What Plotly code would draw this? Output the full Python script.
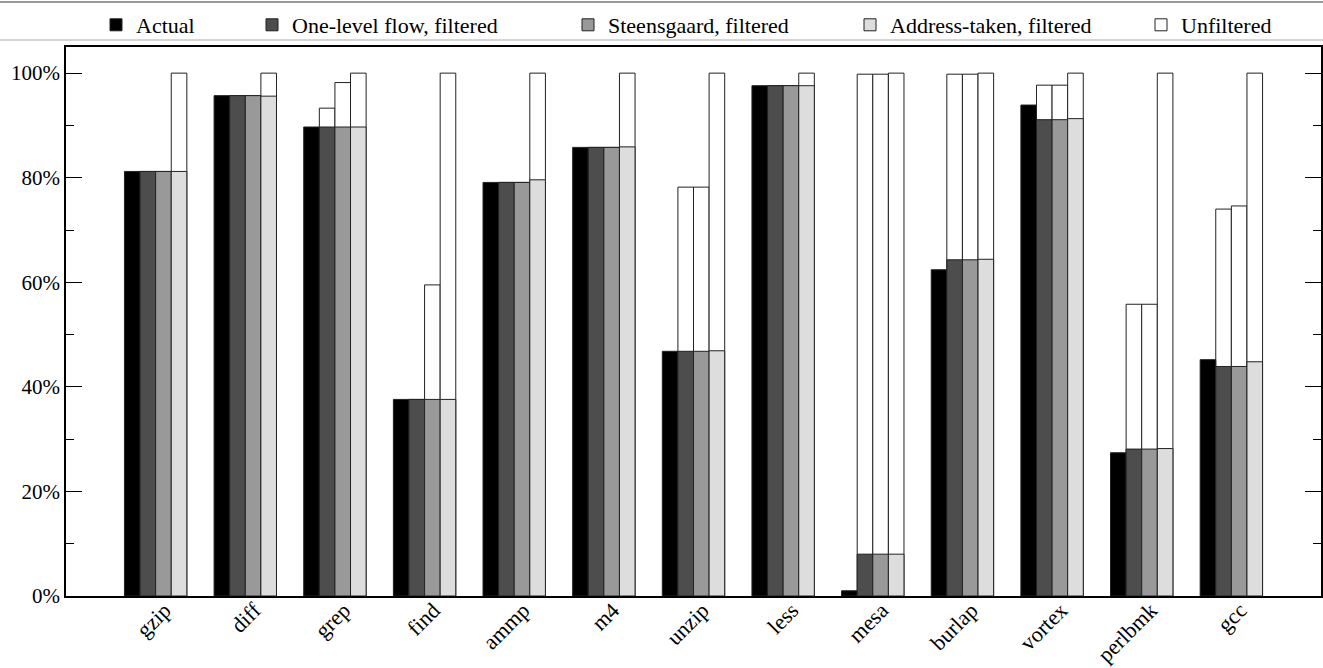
import plotly.graph_objects as go

categories = ["gzip", "diff", "grep", "find", "ammp", "m4", "unzip",
              "less", "mesa", "burlap", "vortex", "perlbmk", "gcc"]

actual = [81.2, 95.7, 89.7, 37.6, 79.1, 85.8, 46.8, 97.6, 1.0, 62.4, 93.9, 27.4, 45.2]
one_level_filtered = [81.2, 95.7, 89.7, 37.6, 79.1, 85.8, 46.8, 97.6, 8.0, 64.3, 91.1, 28.1, 43.9]
steensgaard_filtered = [81.2, 95.7, 89.7, 37.6, 79.1, 85.8, 46.8, 97.6, 8.0, 64.3, 91.1, 28.1, 43.9]
address_taken_filtered = [81.2, 95.6, 89.7, 37.6, 79.6, 85.9, 46.9, 97.6, 8.0, 64.4, 91.3, 28.2, 44.8]

one_level_unfiltered = [81.2, 95.7, 93.3, 37.6, 79.1, 85.8, 78.2, 97.6, 99.8, 99.8, 97.7, 55.8, 74.0]
steensgaard_unfiltered = [81.2, 95.7, 98.2, 59.5, 79.1, 85.8, 78.2, 97.6, 99.8, 99.8, 97.7, 55.8, 74.6]
address_taken_unfiltered = [100, 100, 100, 100, 100, 100, 100, 100, 100, 100, 100, 100, 100]

y_tick_values = [0, 20, 40, 60, 80, 100]
y_tick_labels = ["0%", "20%", "40%", "60%", "80%", "100%"]

FONT = "Liberation Serif"
W = 0.174
OUTLINE = dict(color="#222222", width=1)
FIG_W, FIG_H = 1323, 668

# legend text start positions (px from left) for each entry
legend_text_x = [136, 292, 608, 890, 1181]
legend_names = ["legend", "legend2", "legend3", "legend4", "legend5"]

fig = go.Figure()

# Unfiltered (white) bars drawn first, underneath
for i, vals in enumerate([one_level_unfiltered, steensgaard_unfiltered, address_taken_unfiltered]):
    fig.add_trace(go.Bar(
        x=categories, y=vals, name="Unfiltered",
        marker=dict(color="#ffffff", line=OUTLINE),
        width=W, offset=(-1 + i) * W,
        legendgroup="unf", showlegend=(i == 0), legend="legend5",
    ))

series = [
    ("Actual", actual, "#000000", -2),
    ("One-level flow, filtered", one_level_filtered, "#4d4d4d", -1),
    ("Steensgaard, filtered", steensgaard_filtered, "#999999", 0),
    ("Address-taken, filtered", address_taken_filtered, "#dddddd", 1),
]
for j, (name, vals, color, k) in enumerate(series):
    fig.add_trace(go.Bar(
        x=categories, y=vals, name=name,
        marker=dict(color=color, line=OUTLINE),
        width=W, offset=k * W, legend=legend_names[j],
    ))

legend_common = dict(
    orientation="h", xref="container", yref="container",
    xanchor="left", yanchor="middle", y=1 - 25 / FIG_H,
    font=dict(family=FONT, size=22, color="black"),
    bgcolor="rgba(0,0,0,0)", borderwidth=0,
)
legend_layout = {}
for name, tx in zip(legend_names, legend_text_x):
    legend_layout[name] = dict(legend_common, x=(tx - 40) / FIG_W)

fig.update_layout(
    width=FIG_W, height=FIG_H,
    barmode="overlay",
    paper_bgcolor="white", plot_bgcolor="white",
    margin=dict(l=66, r=2, t=47, b=72, autoexpand=False),
    font=dict(family=FONT, size=22, color="black"),
    showlegend=True,
    xaxis=dict(
        range=[-1, 13], showline=True, linecolor="black", linewidth=1.5,
        mirror=True, ticks="", showgrid=False, tickangle=-45, automargin=False,
        ticklabelshift=9, ticklabelstandoff=-9,
        tickfont=dict(family=FONT, size=22, color="black"),
    ),
    yaxis=dict(
        range=[0, 105], showline=True, linecolor="black", linewidth=1.5,
        mirror="ticks", ticks="inside", ticklen=16, tickwidth=1.2, tickcolor="black",
        tickvals=y_tick_values, ticktext=y_tick_labels, showgrid=False, zeroline=False,
        automargin=False,
        tickfont=dict(family=FONT, size=21, color="black"),
        minor=dict(dtick=10, ticks="inside", ticklen=8, tickwidth=1.2, tickcolor="black", showgrid=False),
    ),
    shapes=[
        dict(type="line", xref="paper", yref="paper", x0=-0.1, x1=1.1,
             y0=(596 - 2) / 549, y1=(596 - 2) / 549, line=dict(color="#777777", width=1.5)),
        dict(type="line", xref="paper", yref="paper", x0=-0.1, x1=1.1,
             y0=(596 - 40) / 549, y1=(596 - 40) / 549, line=dict(color="#aaaaaa", width=1)),
    ],
    **legend_layout,
)

fig.write_html("out.html", config={"displayModeBar": False},
               post_script="document.body.style.margin='0';")
